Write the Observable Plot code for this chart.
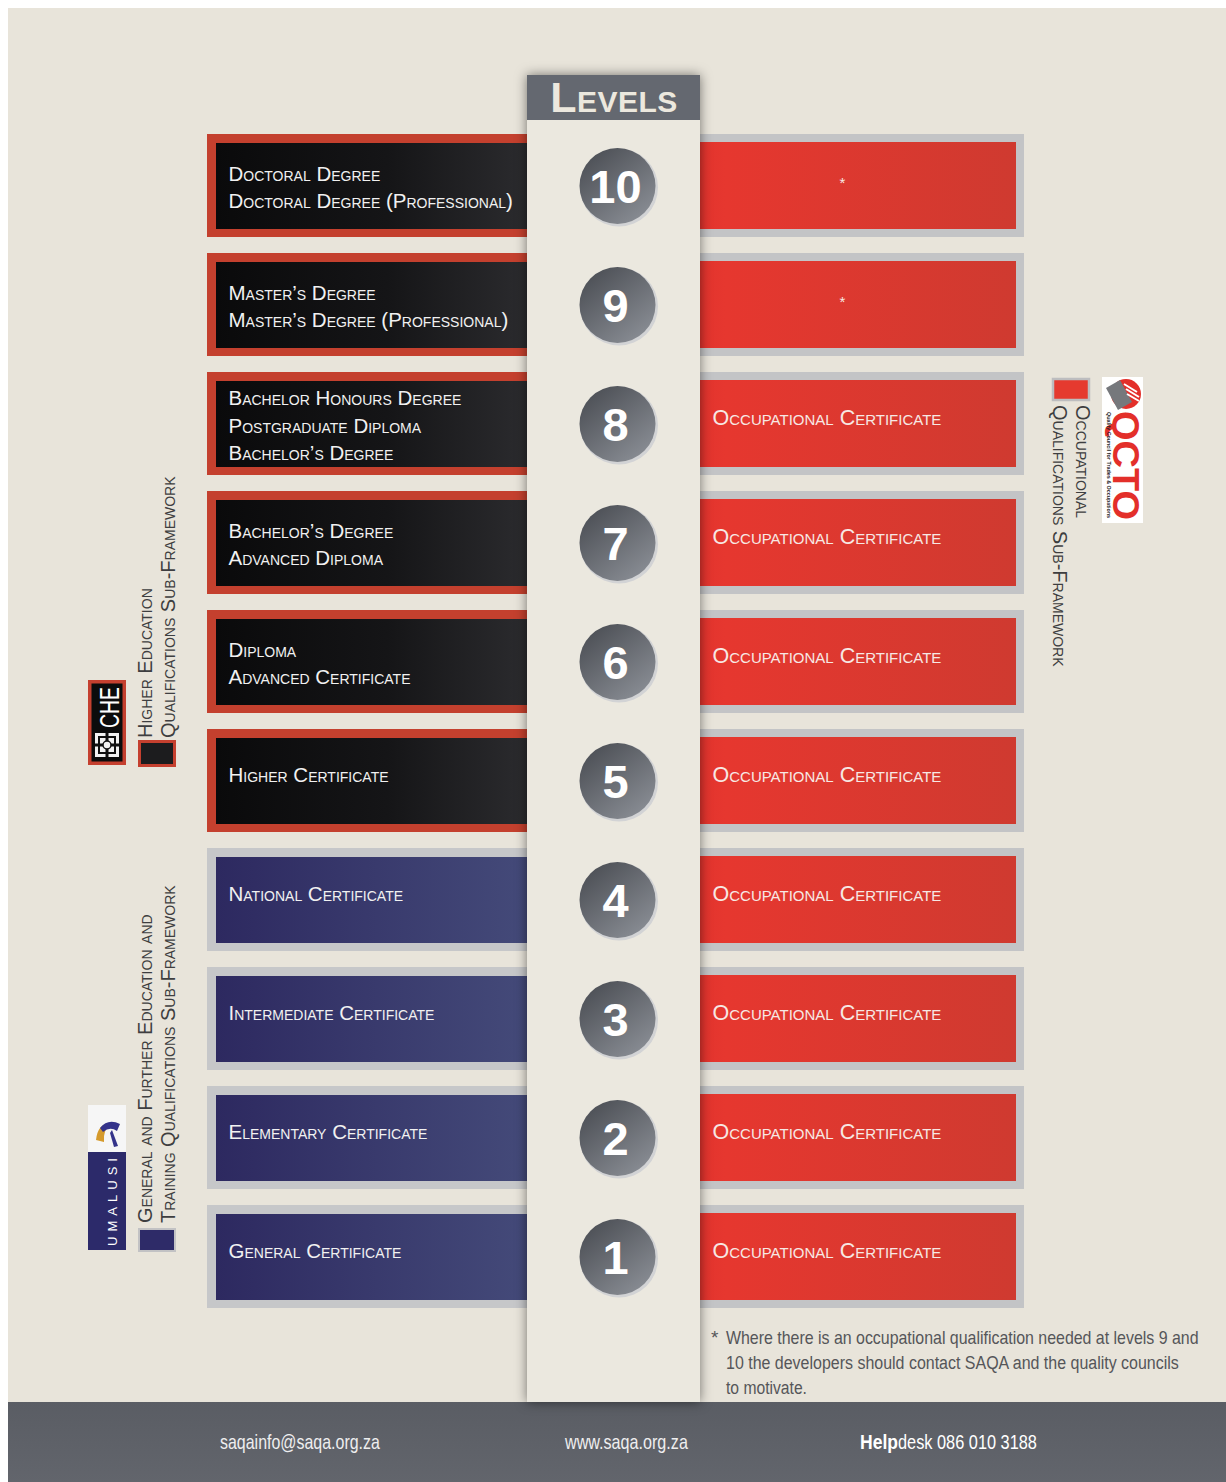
<!DOCTYPE html>
<html>
<head>
<meta charset="utf-8">
<script src="https://cdn.jsdelivr.net/npm/d3@7"></script>
<script src="https://cdn.jsdelivr.net/npm/@observablehq/plot@0.6"></script>
<style>
  body { margin: 0; background: #ffffff; }
  #chart svg { display: block; }
  g[aria-label="frames-left"], g[aria-label="frames-right"] { filter: drop-shadow(0px 7px 5px rgba(0,0,0,0.38)); }
  g[aria-label="level-column"] { filter: drop-shadow(0px 0px 6px rgba(0,0,0,0.5)); }
  g[aria-label="level-circles"] { filter: drop-shadow(2px 3px 3px rgba(0,0,0,0.35)); }
  g[aria-label="qual-left"], g[aria-label="qual-left-single"] { letter-spacing: 0.3px; }
  g[aria-label="qual-right"] { letter-spacing: 0.7px; }
</style>
</head>
<body>
<div id="chart"></div>
<script>
// ---------- data ----------
const levels = [10, 9, 8, 7, 6, 5, 4, 3, 2, 1];
const heqsfQualifications = [
  "Doctoral Degree\nDoctoral Degree (Professional)",
  "Master’s Degree\nMaster’s Degree (Professional)",
  "Bachelor Honours Degree\nPostgraduate Diploma\nBachelor’s Degree",
  "Bachelor’s Degree\nAdvanced Diploma",
  "Diploma\nAdvanced Certificate",
  "Higher Certificate"
];
const gfetqsfQualifications = [
  "National Certificate",
  "Intermediate Certificate",
  "Elementary Certificate",
  "General Certificate"
];
const occupationalQualifications = [
  "*", "*",
  "Occupational Certificate", "Occupational Certificate", "Occupational Certificate",
  "Occupational Certificate", "Occupational Certificate", "Occupational Certificate",
  "Occupational Certificate", "Occupational Certificate"
];
const heqsfLabel = ["Higher Education", "Qualifications Sub-Framework"];
const gfetqsfLabel = ["General and Further Education and", "Training Qualifications Sub-Framework"];
const oqsfLabel = ["Occupational", "Qualifications Sub-Framework"];
const headerTitle = "Levels";
const footnoteLines = [
  "Where there is an occupational qualification needed at levels 9 and",
  "10 the developers should contact SAQA and the quality councils",
  "to motivate."
];
const footerItems = ["saqainfo@saqa.org.za", "www.saqa.org.za", "Help", "desk 086 010 3188"];

// table built from the arrays
const leftQualifications = [...heqsfQualifications, ...gfetqsfQualifications];
const rows = levels.map((level, i) => ({
  level,
  left: leftQualifications[i],
  framework: i < heqsfQualifications.length ? "HEQSF" : "GFETQSF",
  right: occupationalQualifications[i]
}));

// ---------- layout ----------
const W = 1226, H = 1482;
const FONT = "'Liberation Sans', Arial, Helvetica, sans-serif";

function background() {
  const g = d3.create("svg:g");
  const defs = g.append("defs");
  const lin = (id, stops, x2 = "100%", y2 = "0%") => {
    const lg = defs.append("linearGradient").attr("id", id)
      .attr("x1", "0%").attr("y1", "0%").attr("x2", x2).attr("y2", y2);
    stops.forEach(([o, c]) => lg.append("stop").attr("offset", o).attr("stop-color", c));
  };
  lin("gBlack", [["0%", "#0a0a0b"], ["55%", "#151517"], ["100%", "#2b2b2e"]]);
  lin("gPurple", [["0%", "#2d2960"], ["100%", "#444a79"]]);
  lin("gRed", [["0%", "#e2342e"], ["8%", "#e6372f"], ["100%", "#cf3a30"]]);
  lin("gCircle", [["0%", "#45484e"], ["100%", "#8a8e95"]], "80%", "100%");
  lin("gFooter", [["0%", "#5a5d64"], ["100%", "#62656c"]], "0%", "100%");
  g.append("rect").attr("x", 0).attr("y", 0).attr("width", W).attr("height", H).attr("fill", "#ffffff");
  g.append("rect").attr("x", 8).attr("y", 8).attr("width", W - 8).attr("height", 1394).attr("fill", "#e8e4da");
  g.append("rect").attr("x", 8).attr("y", 1402).attr("width", W - 8).attr("height", H - 1402).attr("fill", "url(#gFooter)");
  return g.node();
}

function levelColumn() {
  const g = d3.create("svg:g").attr("aria-label", "level-column");
  g.append("rect").attr("x", 527).attr("y", 118).attr("width", 173).attr("height", 1284).attr("fill", "#ebe8df");
  g.append("rect").attr("x", 527).attr("y", 75).attr("width", 173).attr("height", 45).attr("fill", "#646870");
  return g.node();
}

function annotations() {
  const g = d3.create("svg:g").attr("font-family", FONT).attr("text-anchor", "start");
  // header title
  g.append("text").attr("x", 614).attr("y", 112).attr("text-anchor", "middle")
    .attr("font-size", 43).attr("font-weight", "bold").attr("font-variant", "small-caps")
    .attr("fill", "#ece8de").attr("letter-spacing", 0.5).text(headerTitle);

  const vtext = (x, y, angle, str, size, fill, extra = {}) => {
    const t = g.append("text").attr("transform", `translate(${x},${y}) rotate(${angle})`)
      .attr("font-size", size).attr("fill", fill).text(str);
    Object.entries(extra).forEach(([k, v]) => t.attr(k, v));
    return t;
  };

  // --- HEQSF legend ---
  g.append("rect").attr("x", 88).attr("y", 680).attr("width", 38).attr("height", 85).attr("fill", "#c5402f");
  g.append("rect").attr("x", 91.5).attr("y", 683.5).attr("width", 31).attr("height", 78).attr("fill", "#0c0c0c");
  vtext(119, 728, -90, "CHE", 27, "#ffffff", { textLength: 41, lengthAdjust: "spacingAndGlyphs" });
  g.append("rect").attr("x", 95).attr("y", 733).attr("width", 24).attr("height", 24).attr("fill", "#f2f2f2");
  g.append("rect").attr("x", 99).attr("y", 737).attr("width", 16).attr("height", 16).attr("fill", "none").attr("stroke", "#111").attr("stroke-width", 2);
  g.append("path").attr("d", "M107,733 V757 M95,745 H119").attr("stroke", "#111").attr("stroke-width", 3);
  g.append("circle").attr("cx", 107).attr("cy", 745).attr("r", 4).attr("fill", "#f2f2f2").attr("stroke", "#111").attr("stroke-width", 1.5);
  g.append("rect").attr("x", 139.5).attr("y", 741.5).attr("width", 35).attr("height", 24).attr("fill", "#1c1c1e").attr("stroke", "#c5402f").attr("stroke-width", 3);
  vtext(152, 738, -90, heqsfLabel[0], 20, "#3e3e40", { "font-variant": "small-caps" });
  vtext(175, 738, -90, heqsfLabel[1], 20, "#3e3e40", { "font-variant": "small-caps" });

  // --- GFETQSF legend ---
  g.append("rect").attr("x", 88).attr("y", 1105).attr("width", 38).attr("height", 47).attr("fill", "#f6f6f6");
  g.append("rect").attr("x", 88).attr("y", 1152).attr("width", 38).attr("height", 98).attr("fill", "#2c2a6a");
  g.append("path").attr("d", "M96,1140 Q98,1122 112,1124 Q103,1128 104,1142 Z").attr("fill", "#d59a2c");
  g.append("path").attr("d", "M100,1128 Q108,1118 120,1124 L117,1131 Q110,1126 103,1132 Z").attr("fill", "#34338a");
  g.append("path").attr("d", "M112,1130 L118,1146 L114,1147 L110,1133 Z").attr("fill", "#34338a");
  vtext(117, 1246, -90, "UMALUSI", 13, "#ffffff", { textLength: 88, lengthAdjust: "spacing" });
  g.append("rect").attr("x", 139).attr("y", 1229).attr("width", 36).attr("height", 22).attr("fill", "#2e2b68").attr("stroke", "#c2c2c4").attr("stroke-width", 2);
  vtext(152, 1223, -90, gfetqsfLabel[0], 20, "#3e3e40", { "font-variant": "small-caps" });
  vtext(175, 1223, -90, gfetqsfLabel[1], 20, "#3e3e40", { "font-variant": "small-caps" });

  // --- OQSF legend ---
  g.append("rect").attr("x", 1053).attr("y", 379).attr("width", 36).attr("height", 21).attr("fill", "#e53a2f").attr("stroke", "#bdbdbf").attr("stroke-width", 2.5);
  vtext(1076, 405, 90, oqsfLabel[0], 20, "#3e3e40", { "font-variant": "small-caps" });
  vtext(1053, 405, 90, oqsfLabel[1], 20, "#3e3e40", { "font-variant": "small-caps" });
  g.append("rect").attr("x", 1102).attr("y", 377).attr("width", 41).attr("height", 146).attr("fill", "#ffffff");
  g.append("circle").attr("cx", 1126).attr("cy", 394).attr("r", 15).attr("fill", "#e32f2a");
  g.append("path").attr("d", "M1106,388 L1120,380 L1132,402 L1118,410 Z").attr("fill", "#76787c");
  g.append("path").attr("d", "M1124,384 L1137,392 M1126,389 L1139,397 M1127,394 L1139,401").attr("stroke", "#ffffff").attr("stroke-width", 2);
  vtext(1113, 411, 90, "QCTO", 37, "#e32f2a", { "font-weight": "bold", textLength: 109, lengthAdjust: "spacingAndGlyphs" });
  vtext(1107, 412, 90, "Quality Council for Trades & Occupations", 4.6, "#222", { "font-weight": "bold", textLength: 106, lengthAdjust: "spacingAndGlyphs" });

  // --- footnote (horizontally condensed to fit, see fit() below) ---
  const fn = g.append("g").attr("fill", "#555659").attr("font-size", 19);
  fn.append("text").attr("x", 711).attr("y", 1344).text("*");
  const fnWidths = [473, 453, 81];
  footnoteLines.forEach((line, i) => {
    fn.append("text").attr("class", "fit").attr("data-x", 726).attr("data-y", 1344 + i * 25)
      .attr("data-w", fnWidths[i]).text(line);
  });

  // --- footer ---
  const ft = g.append("g").attr("fill", "#eeeeef").attr("font-size", 20);
  ft.append("text").attr("class", "fit").attr("data-x", 220).attr("data-y", 1449).attr("data-w", 160).text(footerItems[0]);
  ft.append("text").attr("class", "fit").attr("data-x", 565).attr("data-y", 1449).attr("data-w", 123).text(footerItems[1]);
  ft.append("text").attr("class", "fit").attr("data-x", 860).attr("data-y", 1449).attr("data-w", 38)
    .attr("font-weight", "bold").attr("fill", "#ffffff").text(footerItems[2]);
  ft.append("text").attr("class", "fit").attr("data-x", 898).attr("data-y", 1449).attr("data-w", 139)
    .attr("fill", "#ffffff").text(footerItems[3]);
  return g.node();
}

const textCommon = { fontFamily: FONT, fontVariant: "small-caps", textAnchor: "start" };

const chart = Plot.plot({
  width: W,
  height: H,
  margin: 0,
  style: { background: "transparent", fontFamily: FONT, overflow: "visible" },
  x: { domain: [0, W], range: [0, W], axis: null },
  y: { type: "band", domain: levels, range: [132, 1309], paddingInner: 0.135, paddingOuter: 0, axis: null },
  marks: [
    background,
    Plot.barX(rows, { x1: () => 207, x2: () => 527, y: "level", filter: d => d.framework === "HEQSF", fill: "#c4402e", ariaLabel: "frames-left" }),
    Plot.barX(rows, { x1: () => 207, x2: () => 527, y: "level", filter: d => d.framework === "GFETQSF", fill: "#c6c7c9", ariaLabel: "frames-left" }),
    Plot.barX(rows, { x1: () => 700, x2: () => 1024, y: "level", fill: "#c3c4c6", ariaLabel: "frames-right" }),
    Plot.barX(rows, { x1: () => 216, x2: () => 527, y: "level", filter: d => d.framework === "HEQSF", insetTop: 9, insetBottom: 8, fill: "url(#gBlack)" }),
    Plot.barX(rows, { x1: () => 216, x2: () => 527, y: "level", filter: d => d.framework === "GFETQSF", insetTop: 9, insetBottom: 8, fill: "url(#gPurple)" }),
    Plot.barX(rows, { x1: () => 700, x2: () => 1016, y: "level", insetTop: 8, insetBottom: 8, fill: "url(#gRed)" }),
    levelColumn,
    Plot.dot(rows, { x: () => 617, y: "level", r: 39, dx: 1.5, dy: 1.5, fill: "#d2d3d5", stroke: "none" }),
    Plot.dot(rows, { x: () => 617, y: "level", r: 38, fill: "url(#gCircle)", stroke: "none", ariaLabel: "level-circles" }),
    Plot.text(rows, { x: () => 615, y: "level", text: d => String(d.level), fontSize: 47, fontWeight: "bold", fill: "#ffffff", fontFamily: FONT, dy: 2 }),
    Plot.text(rows, { ...textCommon, x: () => 228, y: "level", text: "left", filter: d => d.left.includes("\n"), fontSize: 20.5, lineHeight: 1.33, fill: "#f1f1f1", ariaLabel: "qual-left" }),
    Plot.text(rows, { ...textCommon, x: () => 228, y: "level", text: "left", filter: d => !d.left.includes("\n"), fontSize: 20.5, dy: -6, fill: "#f1f1f1", ariaLabel: "qual-left-single" }),
    Plot.text(rows, { ...textCommon, x: () => 712, y: "level", text: "right", filter: d => d.right !== "*", fontSize: 21.5, dy: -6, fill: "#f7e8e4", ariaLabel: "qual-right" }),
    Plot.text(rows, { x: () => 842, y: "level", text: "right", filter: d => d.right === "*", fontSize: 15, dy: -3, fill: "#f7e8e4", fontFamily: FONT }),
    annotations
  ]
});

document.getElementById("chart").appendChild(chart);

// condense the footnote and footer texts horizontally to their measured widths
d3.select(chart).selectAll("text.fit").each(function () {
  const t = d3.select(this);
  const natural = this.getComputedTextLength() || 1;
  const sx = Math.min(1, +t.attr("data-w") / natural);
  t.attr("transform", `translate(${t.attr("data-x")},${t.attr("data-y")}) scale(${sx},1)`);
});
</script>
</body>
</html>
